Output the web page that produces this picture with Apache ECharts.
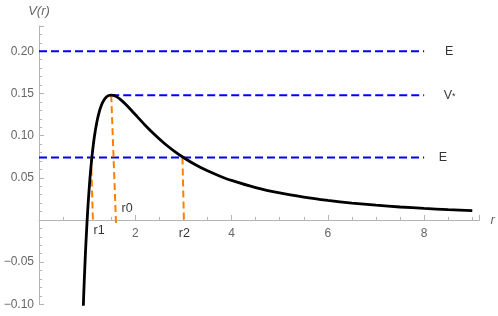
<!DOCTYPE html>
<html>
<head>
<meta charset="utf-8">
<script src="https://cdn.jsdelivr.net/npm/echarts@6/dist/echarts.min.js"></script>
<style>html,body{margin:0;padding:0;background:#fff}#c{width:498px;height:316px}</style>
</head>
<body>
<div id="c"></div>
<script>
// Curve V(r)
const rValues = [0.921, 0.93, 0.95, 0.97, 1.0, 1.02, 1.05, 1.07, 1.1, 1.15, 1.2, 1.25, 1.3, 1.35, 1.4, 1.45, 1.5, 1.55, 1.6, 1.7, 1.8, 1.9, 2.0, 2.2, 2.4, 2.6, 2.8, 3.0, 3.25, 3.5, 3.75, 4.0, 4.5, 5.0, 5.5, 6.0, 6.5, 7.0, 7.5, 8.0, 8.5, 9.0];
const vValues = [-0.102, -0.0870, -0.0583, -0.0329, 0.0, 0.0189, 0.0432, 0.0571, 0.0751, 0.0986, 0.1157, 0.1280, 0.1366, 0.1423, 0.1458, 0.1476, 0.1481, 0.1477, 0.1465, 0.1425, 0.1372, 0.1312, 0.1250, 0.1127, 0.1013, 0.0910, 0.0820, 0.0741, 0.0655, 0.0583, 0.0522, 0.0469, 0.0384, 0.0320, 0.0271, 0.0232, 0.0200, 0.0175, 0.0154, 0.0137, 0.0122, 0.0110];

// Horizontal levels (blue dashed)
const levelNames = ['E', 'V*', 'E'];
const levelValues = [0.2, 0.148, 0.074];
const levelStartR = [0, 1.5, 0];
const levelEndR = [8, 8, 8];
const levelLabelR = [8.52, 8.53, 8.39];

// Turning points (orange dashed): top (r, V) and bottom (r, V)
const pointNames = ['r1', 'r0', 'r2'];
const pointTopR = [1.08, 1.5, 2.98];
const pointTopV = [0.074, 0.148, 0.074];
const pointBottomR = [1.12, 1.6, 3.01];
const pointBottomV = [0.0, -0.004, 0.0];
const pointLabelR = [1.25, 1.83, 3.02];
const pointLabelV = [-0.013, 0.013, -0.016];

// Axis ticks
const xMin = 0, xMax = 9.15, xInterval = 2;
const yMin = -0.10, yMax = 0.23, yInterval = 0.05;

const chart = echarts.init(document.getElementById('c'), null, {renderer: 'canvas'});
const axisGray = '#b4b4b4';
const labelGray = '#666666';
const font = 'Liberation Sans, Arial, sans-serif';

const gridTop = 26, gridBottom = 11.7, H = 316;
const plotH = H - gridTop - gridBottom;
// offset of x axis from grid bottom to where V = 0 sits
const zeroOffset = -plotH * (0 - yMin) / (yMax - yMin);

const series = [];
series.push({
  type: 'line', data: rValues.map((r, i) => [r, vValues[i]]),
  showSymbol: false, smooth: 0.2, z: 5,
  lineStyle: {color: '#000', width: 2.8}
});
levelValues.forEach((v, i) => {
  series.push({
    type: 'line', data: [[levelStartR[i], v], [levelEndR[i], v]],
    showSymbol: false, z: 3,
    lineStyle: {color: '#0000ff', width: 2, type: [8, 4]}
  });
});
pointNames.forEach((n, i) => {
  series.push({
    type: 'line', data: [[pointTopR[i], pointTopV[i]], [pointBottomR[i], pointBottomV[i]]],
    showSymbol: false, z: 4,
    lineStyle: {color: '#ff8000', width: 2, type: [7, 4]}
  });
});
series.push({
  type: 'scatter', symbolSize: 0, z: 6,
  data: levelNames.map((n, i) => ({name: n, value: [levelLabelR[i], levelValues[i]]}))
    .concat(pointNames.map((n, i) => ({name: n, value: [pointLabelR[i], pointLabelV[i]]}))),
  label: {
    show: true, position: [0, 0], align: 'center', verticalAlign: 'middle',
    color: '#000', fontFamily: font, fontSize: 12.5,
    formatter: p => p.name === 'V*' ? '{v|V}{s|*}' : p.name,
    rich: {
      v: {fontSize: 12.5, fontFamily: font, color: '#000'},
      s: {fontSize: 9, fontFamily: font, color: '#000', padding: [3, 0, 0, 0]}
    }
  },
  silent: true
});

chart.setOption({
  animation: false,
  backgroundColor: '#fff',
  grid: {left: 39, right: 18.5, top: gridTop, bottom: gridBottom, containLabel: false, outerBoundsMode: 'none'},
  xAxis: {
    type: 'value', min: xMin, max: xMax, interval: xInterval,
    position: 'bottom', offset: zeroOffset,
    name: 'r', nameLocation: 'end', nameGap: 11,
    nameTextStyle: {color: labelGray, fontStyle: 'italic', fontFamily: font, fontSize: 13, verticalAlign: 'middle'},
    axisLine: {onZero: false, lineStyle: {color: axisGray, width: 1}},
    axisTick: {show: true, inside: true, length: 5, lineStyle: {color: axisGray}},
    minorTick: {show: true, splitNumber: 4, length: 3, lineStyle: {color: axisGray}},
    splitLine: {show: false},
    axisLabel: {color: labelGray, fontFamily: font, fontSize: 12, margin: 8, showMinLabel: false, showMaxLabel: false,
      formatter: v => (v === 0 ? '' : String(v))}
  },
  yAxis: {
    type: 'value', min: yMin, max: yMax, interval: yInterval,
    name: 'V(r)', nameLocation: 'end', nameGap: 15,
    nameTextStyle: {color: labelGray, fontStyle: 'italic', fontFamily: font, fontSize: 13, align: 'center', verticalAlign: 'middle'},
    axisLine: {onZero: false, lineStyle: {color: axisGray, width: 1}},
    axisTick: {show: true, inside: true, length: 5, lineStyle: {color: axisGray}},
    minorTick: {show: true, splitNumber: 5, length: 3, lineStyle: {color: axisGray}},
    splitLine: {show: false},
    axisLabel: {color: labelGray, fontFamily: font, fontSize: 12, margin: 5, showMaxLabel: false,
      formatter: v => {
        if (Math.abs(v) < 1e-9) return '';
        const s = Math.abs(v).toFixed(2);
        return v < 0 ? '\u2212' + s : s;
      }}
  },
  series: series
});
</script>
</body>
</html>
